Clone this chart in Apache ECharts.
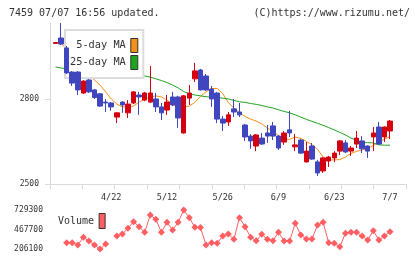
<!DOCTYPE html>
<html><head><meta charset="utf-8">
<script src="https://cdn.jsdelivr.net/npm/echarts@6/dist/echarts.min.js"></script>
<style>html,body{margin:0;padding:0;background:#fff}#c{width:420px;height:259px}</style>
</head><body><div id="c"></div>
<script>
const dates = ['4/8','4/9','4/10','4/11','4/14','4/15','4/16','4/17','4/18','4/21',
  '4/22','4/23','4/24','4/25','4/28','4/30','5/1','5/2','5/7','5/8',
  '5/12','5/13','5/14','5/15','5/16','5/19','5/20','5/21','5/22','5/23',
  '5/26','5/27','5/28','5/29','5/30','6/2','6/3','6/4','6/5','6/6',
  '6/9','6/10','6/11','6/12','6/13','6/16','6/17','6/18','6/19','6/20',
  '6/23','6/24','6/25','6/26','6/27','6/30','7/1','7/2','7/3','7/4','7/7'];
const open = [2996,3015,2980,2895,2895,2821,2867,2832,2818,2789,
  2786,2736,2789,2751,2786,2814,2796,2789,2800,2772,
  2761,2807,2807,2680,2803,2871,2902,2881,2835,2821,
  2729,2719,2765,2754,2708,2669,2634,2662,2680,2705,
  2669,2648,2691,2631,2655,2578,2634,2578,2546,2581,
  2592,2616,2645,2616,2641,2652,2634,2666,2701,2666,2687];
const close = [2999,2994,2892,2856,2832,2863,2825,2805,2775,2786,
  2772,2751,2779,2782,2825,2807,2821,2821,2772,2751,
  2789,2779,2733,2811,2821,2899,2832,2832,2800,2729,
  2715,2744,2754,2744,2666,2652,2673,2641,2669,2669,
  2627,2680,2680,2638,2609,2616,2588,2539,2592,2595,
  2609,2652,2613,2627,2662,2624,2616,2680,2641,2701,2722];
const low = [2994,2990,2888,2846,2814,2818,2821,2800,2772,2754,
  2758,2715,2751,2733,2782,2744,2792,2786,2754,2726,
  2744,2775,2698,2678,2779,2860,2830,2828,2772,2715,
  2687,2705,2736,2736,2652,2624,2616,2638,2645,2655,
  2620,2638,2666,2616,2606,2576,2585,2528,2539,2560,
  2578,2602,2609,2599,2627,2609,2592,2616,2638,2648,2659];
const high = [3001,3068,2987,2898,2898,2866,2870,2835,2821,2800,
  2789,2752,2792,2796,2828,2825,2825,2916,2821,2786,
  2814,2825,2811,2814,2849,2927,2906,2888,2846,2825,
  2740,2754,2800,2786,2712,2676,2676,2680,2708,2719,
  2673,2687,2758,2676,2659,2648,2645,2585,2595,2599,
  2616,2655,2655,2634,2687,2669,2636,2701,2719,2704,2726];
const ma5 = [3000,2997,2975,2950,2925,2900,2881,2867,2849,2825,
  2800,2782,2772,2772,2775,2789,2800,2807,2811,2807,
  2796,2780,2772,2771,2775,2788,2809,2825,2837,2837,
  2819,2787,2768,2752,2738,2729,2722,2712,2698,2685,
  2671,2659,2657,2666,2661,2650,2639,2622,2595,2585,
  2585,2586,2595,2608,2615,2620,2625,2636,2648,2659,2666];
const ma25 = [2913,2909,2907,2906,2903,2902,2900,2899,2896,2895,
  2893,2891,2890,2888,2886,2884,2881,2877,2871,2865,
  2858,2849,2839,2826,2818,2814,2811,2808,2806,2805,
  2803,2800,2795,2790,2788,2784,2781,2777,2772,2768,
  2762,2756,2751,2744,2736,2728,2721,2714,2707,2699,
  2691,2682,2673,2662,2654,2646,2646,2645,2638,2637,2637];
const volume = [null,null,290600,290600,259800,363000,313400,259800,206100,273200,
  null,380500,407300,483800,572300,505300,430100,662200,604500,430100,
  564300,461000,564300,729300,626000,497200,493700,259800,290600,282600,
  380500,407300,336200,626000,505300,363000,317600,403300,336200,317600,
  430100,313400,313400,550900,393900,340200,340200,528100,564300,290600,
  282600,237000,416700,430100,430100,380500,326800,451600,326800,380500,438200];
const priceTicks = [2500, 2800];
const volumeTicks = [206100, 467700, 729300];
const titleLeft = '7459 07/07 16:56 updated.';
const titleRight = '(C)https://www.rizumu.net/';

const candles = dates.map((d, i) => [open[i], close[i], low[i], high[i]]);
const mono = 'DejaVu Sans Mono';
const gray = '#d9d9d9';
const txt = '#333';
const chart = echarts.init(document.getElementById('c'), null, {renderer: 'canvas'});
chart.setOption({
  animation: false,
  backgroundColor: '#fff',
  title: [
    {text: titleLeft, left: 9, top: 8, padding: 0, textStyle: {fontFamily: mono, fontSize: 10, fontWeight: 'normal', color: txt}},
    {text: titleRight, right: 10, top: 8, padding: 0, textStyle: {fontFamily: mono, fontSize: 10, fontWeight: 'normal', color: txt}}
  ],
  legend: [
    {data: ['5-day MA', '25-day MA'], orient: 'vertical', left: 65, top: 30, align: 'right',
     selectedMode: false, z: 2, backgroundColor: '#fff', borderColor: '#dcdcdc', borderWidth: 2,
     padding: [8, 5, 8, 5], itemGap: 2, itemWidth: 7, itemHeight: 14, icon: 'rect',
     itemStyle: {borderColor: '#333', borderWidth: 1},
     formatter: n => n.length < 9 ? ' ' + n : n,
     textStyle: {fontFamily: mono, fontSize: 10.3, color: txt}},
    {data: ['Volume'], left: 58, top: 213, align: 'right', selectedMode: false,
     padding: 0, itemWidth: 6, itemHeight: 15, icon: 'rect',
     itemStyle: {borderColor: '#333', borderWidth: 1},
     textStyle: {fontFamily: mono, fontSize: 10, color: txt}}
  ],
  grid: [
    {left: 50, width: 356, top: 23, height: 161, outerBoundsMode: 'none'},
    {left: 52.7, width: 340.1, top: 23, height: 161, outerBoundsMode: 'none'},
    {left: 52.7, width: 340.1, top: 210, height: 39, outerBoundsMode: 'none'}
  ],
  xAxis: [
    {gridIndex: 0, type: 'value', min: 0, max: 11, interval: 1,
     axisLine: {show: true, lineStyle: {color: gray}},
     axisTick: {show: true, length: 5, lineStyle: {color: gray}},
     axisLabel: {show: false}, splitLine: {show: false}},
    {gridIndex: 1, type: 'category', data: dates,
     axisLine: {show: false}, axisTick: {show: false}, splitLine: {show: false},
     axisLabel: {interval: (i) => i >= 10 && (dates.length - 1 - i) % 10 === 0, margin: 9,
       fontFamily: mono, fontSize: 8.5, color: txt}},
    {gridIndex: 2, type: 'category', data: dates, show: false}
  ],
  yAxis: [
    {gridIndex: 0, type: 'value', min: 2500, max: 3068,
     axisLine: {show: true, lineStyle: {color: gray}},
     axisTick: {show: true, length: 5, customValues: priceTicks, lineStyle: {color: gray}},
     axisLabel: {customValues: priceTicks, formatter: v => String(v), margin: 11,
       fontFamily: mono, fontSize: 8, color: txt},
     splitLine: {show: false}},
    {gridIndex: 1, type: 'value', min: 2500, max: 3068, show: false, splitLine: {show: false}},
    {gridIndex: 2, type: 'value', min: 206100, max: 729300,
     axisLine: {show: false}, axisTick: {show: false}, splitLine: {show: false},
     axisLabel: {customValues: volumeTicks, formatter: v => String(v), margin: 9.7,
       fontFamily: mono, fontSize: 8, color: txt}}
  ],
  series: [
    {name: '5-day MA', type: 'line', xAxisIndex: 1, yAxisIndex: 1, data: ma5, z: 1,
     symbol: 'none', color: '#f39019', lineStyle: {width: 1, color: '#f39019'}},
    {name: '25-day MA', type: 'line', xAxisIndex: 1, yAxisIndex: 1, data: ma25, z: 1,
     symbol: 'none', color: '#1ea51e', lineStyle: {width: 1, color: '#1ea51e'}},
    {name: 'Price', type: 'candlestick', xAxisIndex: 1, yAxisIndex: 1, data: candles, z: 3,
     barWidth: 5,
     itemStyle: {color: '#d5000f', color0: '#4046bd', borderColor: '#d5000f', borderColor0: '#4046bd', borderWidth: 1}},
    {name: 'Volume', type: 'line', xAxisIndex: 2, yAxisIndex: 2, data: volume,
     symbol: 'diamond', symbolSize: 7, showAllSymbol: true, color: '#ff5f62', connectNulls: false,
     lineStyle: {width: 1, color: '#ff5f62'}, itemStyle: {color: '#ff5f62'}}
  ]
});
</script></body></html>
